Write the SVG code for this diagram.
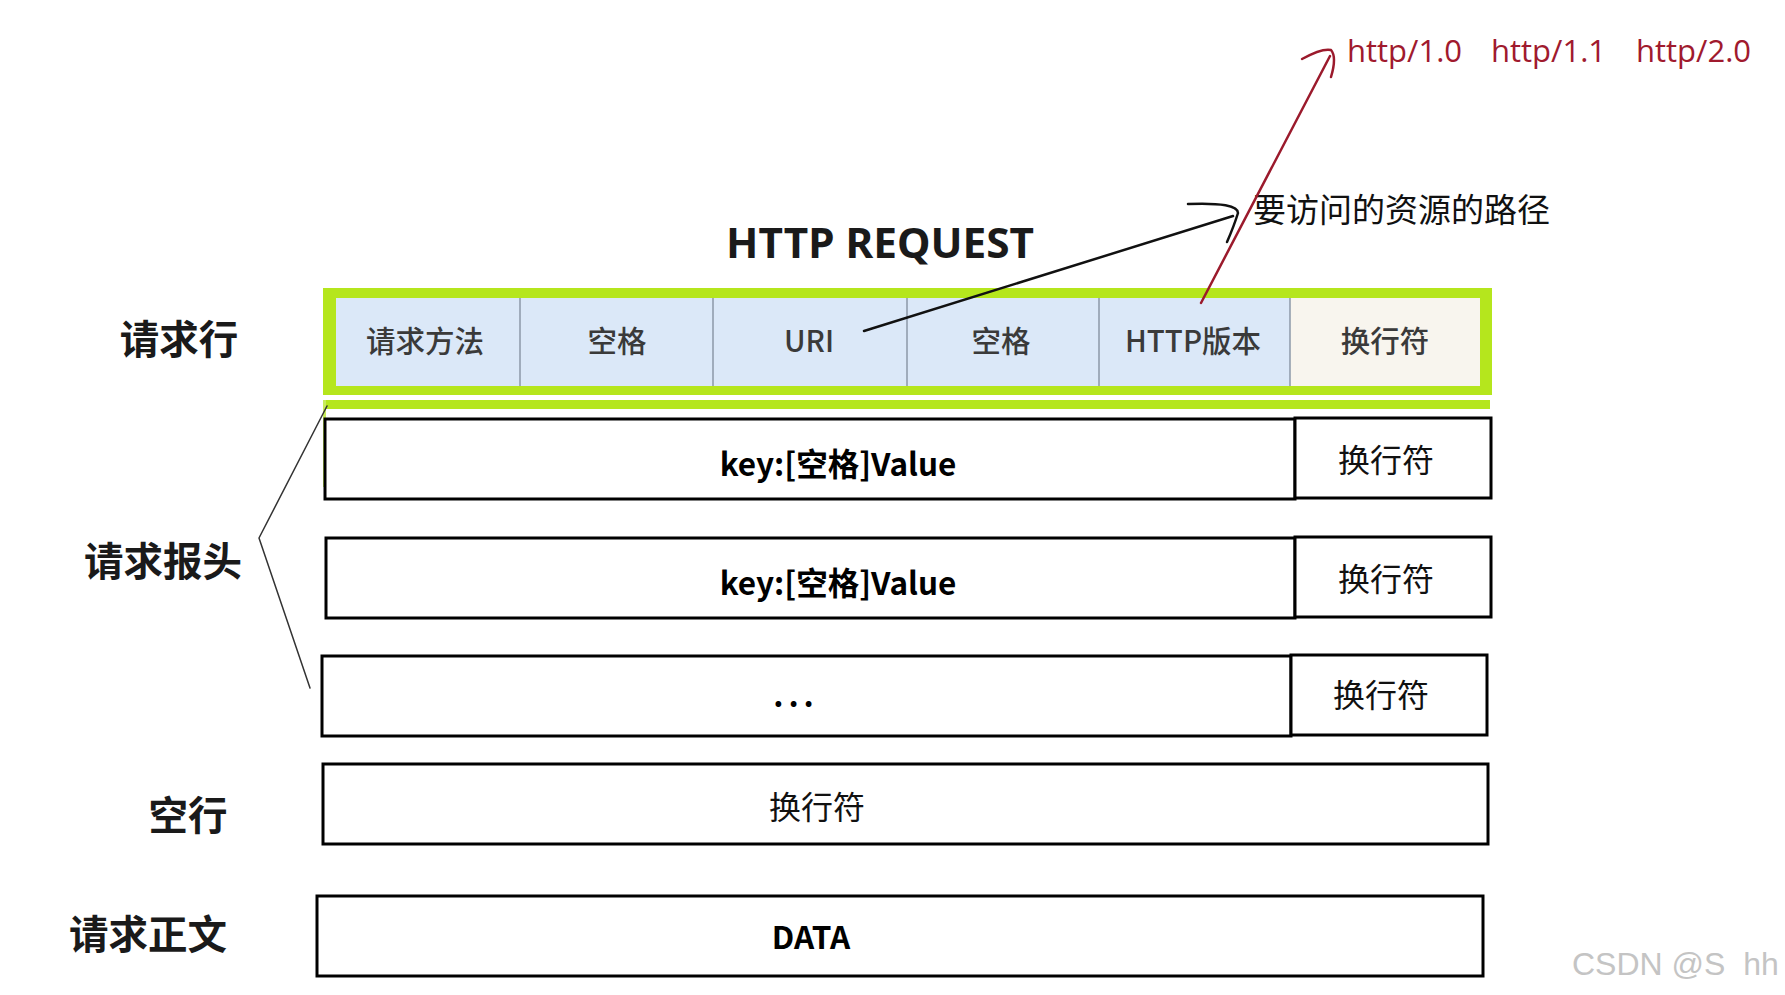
<svg xmlns="http://www.w3.org/2000/svg" width="1785" height="995" viewBox="0 0 1785 995">
<style>
.cell{font-family:"Noto Sans CJK SC","Noto Sans",sans-serif;font-size:29.5px;font-weight:500;fill:#3a3a3a;text-anchor:middle;dominant-baseline:central}
.lbl{font-family:"Noto Sans CJK SC",sans-serif;font-size:39.5px;font-weight:bold;fill:#1a1a1a;text-anchor:middle;dominant-baseline:central}
.box{fill:#fff;stroke:#000;stroke-width:3}
.kv{font-family:"Noto Sans CJK SC","Noto Sans",sans-serif;font-size:31.5px;font-weight:bold;fill:#000;text-anchor:middle;dominant-baseline:central}
.nl{font-family:"Noto Sans CJK SC",sans-serif;font-size:32px;fill:#111;text-anchor:middle;dominant-baseline:central}
.div{stroke:#8c99a8;stroke-width:1.5}
.red{font-family:"Open Sans","Noto Sans",sans-serif;font-size:31px;fill:#a01a2e}
</style>
<rect width="1785" height="995" fill="#fff"/>
<text x="880" y="258" font-family="'Noto Sans',sans-serif" font-size="42" font-weight="bold" fill="#1a1a1a" text-anchor="middle" textLength="308" lengthAdjust="spacingAndGlyphs">HTTP  REQUEST</text>

<g id="label-request-line"><text class="lbl" x="179" y="336">请求行</text></g>
<g id="label-headers"><text class="lbl" x="163" y="558">请求报头</text></g>
<g id="label-blank"><text class="lbl" x="188" y="812">空行</text></g>
<g id="label-body"><text class="lbl" x="148" y="931">请求正文</text></g>

<g id="request-line">
<rect x="323" y="288" width="1169" height="107" fill="#b5e61d"/>
<rect x="336" y="298" width="954" height="88" fill="#dbe8f8"/>
<rect x="1290" y="298" width="190" height="88" fill="#f8f5ee"/>
<line class="div" x1="520" y1="298" x2="520" y2="386"/>
<line class="div" x1="713" y1="298" x2="713" y2="386"/>
<line class="div" x1="907" y1="298" x2="907" y2="386"/>
<line class="div" x1="1099" y1="298" x2="1099" y2="386"/>
<line class="div" x1="1290" y1="298" x2="1290" y2="386"/>
<text class="cell" x="425" y="339">请求方法</text>
<text class="cell" x="617" y="339">空格</text>
<text class="cell" x="809" y="339">URI</text>
<text class="cell" x="1001" y="339">空格</text>
<text class="cell" x="1193" y="339">HTTP版本</text>
<text class="cell" x="1385" y="339">换行符</text>
<rect x="323" y="400" width="1167" height="9" fill="#b5e61d"/>
<rect x="323" y="400" width="3" height="87" fill="#c8ec5a"/>
</g>

<g id="header-1">
<rect class="box" x="325" y="419" width="970" height="80"/>
<rect class="box" x="1295" y="418" width="196" height="80"/>
<text class="kv" x="838" y="462">key:[空格]Value</text>
<text class="nl" x="1386" y="458">换行符</text>
</g>
<g id="header-2">
<rect class="box" x="326" y="538" width="969" height="80"/>
<rect class="box" x="1295" y="537" width="196" height="80"/>
<text class="kv" x="838" y="581">key:[空格]Value</text>
<text class="nl" x="1386" y="577">换行符</text>
</g>
<g id="header-3">
<rect class="box" x="322" y="656" width="969" height="80"/>
<rect class="box" x="1291" y="655" width="196" height="80"/>
<text class="kv" x="796" y="693" letter-spacing="5">...</text>
<text class="nl" x="1381" y="693">换行符</text>
</g>
<g id="blank-line">
<rect class="box" x="323" y="764" width="1165" height="80"/>
<text class="nl" x="817" y="805">换行符</text>
</g>
<g id="body">
<rect class="box" x="317" y="896" width="1166" height="80"/>
<text class="kv" x="811" y="935">DATA</text>
</g>

<g id="annotations">
<text x="1253" y="208" font-family="'Noto Sans CJK SC',sans-serif" font-size="33" fill="#111" dominant-baseline="central">要访问的资源的路径</text>
<text class="red" x="1347" y="62">http/1.0</text>
<text class="red" x="1491" y="62">http/1.1</text>
<text class="red" x="1636" y="62">http/2.0</text>
</g>

<g id="connectors" fill="none" stroke-linecap="round" stroke-linejoin="round">
<polyline points="327,406 259,538 310,688" stroke="#333" stroke-width="1.5"/>
<line x1="864" y1="331" x2="1233" y2="216" stroke="#111" stroke-width="2.5"/>
<path d="M1188,204 Q1238,202 1238,213 Q1234,226 1227,242" stroke="#111" stroke-width="2.5"/>
<line x1="1201" y1="303" x2="1330" y2="56" stroke="#9b1a2c" stroke-width="2.5"/>
<path d="M1302,59 Q1322,48 1331,50 Q1337,57 1331,77" stroke="#9b1a2c" stroke-width="2.5"/>
</g>

<text x="1572" y="975" font-family="'Liberation Sans',sans-serif" font-size="32" fill="#c4c4c4" xml:space="preserve">CSDN @S  hh</text>
</svg>
